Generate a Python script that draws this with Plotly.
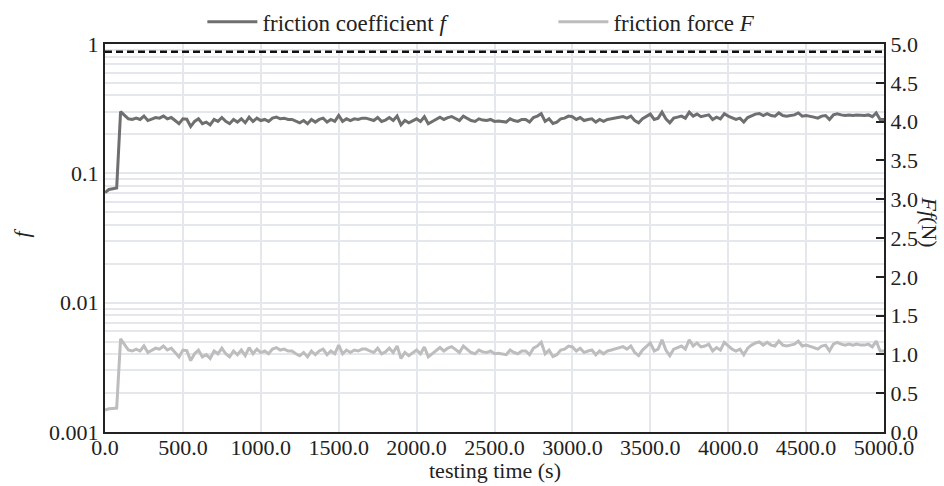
import plotly.graph_objects as go

# testing time (s), sampled every 25 s
time_s = list(range(0, 5001, 25))

# friction coefficient f (left, log axis)
friction_coef = [
    0.071, 0.075, 0.076, 0.077, 0.300, 0.280, 0.264, 0.261,
    0.267, 0.261, 0.277, 0.256, 0.264, 0.270, 0.267, 0.277,
    0.264, 0.270, 0.256, 0.242, 0.264, 0.262, 0.230, 0.252,
    0.264, 0.242, 0.249, 0.237, 0.261, 0.252, 0.270, 0.252,
    0.242, 0.261, 0.249, 0.264, 0.246, 0.272, 0.252, 0.267,
    0.256, 0.261, 0.252, 0.267, 0.272, 0.264, 0.267, 0.261,
    0.261, 0.252, 0.246, 0.256, 0.242, 0.261, 0.249, 0.261,
    0.267, 0.249, 0.261, 0.252, 0.280, 0.252, 0.264, 0.256,
    0.264, 0.261, 0.267, 0.267, 0.261, 0.256, 0.270, 0.252,
    0.258, 0.270, 0.256, 0.277, 0.237, 0.256, 0.246, 0.256,
    0.264, 0.252, 0.274, 0.242, 0.252, 0.264, 0.272, 0.261,
    0.270, 0.275, 0.264, 0.256, 0.277, 0.267, 0.256, 0.252,
    0.264, 0.258, 0.256, 0.261, 0.252, 0.254, 0.252, 0.249,
    0.264, 0.256, 0.252, 0.261, 0.261, 0.249, 0.270, 0.277,
    0.289, 0.252, 0.264, 0.243, 0.249, 0.264, 0.267, 0.277,
    0.274, 0.261, 0.270, 0.256, 0.261, 0.264, 0.249, 0.261,
    0.252, 0.261, 0.264, 0.267, 0.272, 0.275, 0.267, 0.277,
    0.256, 0.246, 0.264, 0.277, 0.287, 0.261, 0.267, 0.297,
    0.264, 0.246, 0.267, 0.272, 0.277, 0.267, 0.297, 0.277,
    0.287, 0.274, 0.277, 0.283, 0.261, 0.272, 0.264, 0.289,
    0.277, 0.267, 0.261, 0.267, 0.249, 0.270, 0.280, 0.287,
    0.290, 0.280, 0.289, 0.280, 0.277, 0.293, 0.280, 0.277,
    0.280, 0.283, 0.293, 0.277, 0.280, 0.277, 0.272, 0.267,
    0.277, 0.280, 0.261, 0.283, 0.289, 0.283, 0.280, 0.283,
    0.280, 0.283, 0.280, 0.280, 0.283, 0.274, 0.293, 0.261,
    0.261,
]

# friction force F in N (right, linear axis)
friction_force = [
    0.284, 0.300, 0.304, 0.308, 1.200, 1.120, 1.056, 1.044,
    1.068, 1.044, 1.108, 1.024, 1.056, 1.080, 1.068, 1.108,
    1.056, 1.080, 1.024, 0.968, 1.056, 1.048, 0.920, 1.008,
    1.056, 0.968, 0.996, 0.948, 1.044, 1.008, 1.080, 1.008,
    0.968, 1.044, 0.996, 1.056, 0.984, 1.088, 1.008, 1.068,
    1.024, 1.044, 1.008, 1.068, 1.088, 1.056, 1.068, 1.044,
    1.044, 1.008, 0.984, 1.024, 0.968, 1.044, 0.996, 1.044,
    1.068, 0.996, 1.044, 1.008, 1.120, 1.008, 1.056, 1.024,
    1.056, 1.044, 1.068, 1.068, 1.044, 1.024, 1.080, 1.008,
    1.032, 1.080, 1.024, 1.108, 0.948, 1.024, 0.984, 1.024,
    1.056, 1.008, 1.096, 0.968, 1.008, 1.056, 1.088, 1.044,
    1.080, 1.100, 1.056, 1.024, 1.108, 1.068, 1.024, 1.008,
    1.056, 1.032, 1.024, 1.044, 1.008, 1.016, 1.008, 0.996,
    1.056, 1.024, 1.008, 1.044, 1.044, 0.996, 1.080, 1.108,
    1.156, 1.008, 1.056, 0.972, 0.996, 1.056, 1.068, 1.108,
    1.096, 1.044, 1.080, 1.024, 1.044, 1.056, 0.996, 1.044,
    1.008, 1.044, 1.056, 1.068, 1.088, 1.100, 1.068, 1.108,
    1.024, 0.984, 1.056, 1.108, 1.148, 1.044, 1.068, 1.188,
    1.056, 0.984, 1.068, 1.088, 1.108, 1.068, 1.188, 1.108,
    1.148, 1.096, 1.108, 1.132, 1.044, 1.088, 1.056, 1.156,
    1.108, 1.068, 1.044, 1.068, 0.996, 1.080, 1.120, 1.148,
    1.160, 1.120, 1.156, 1.120, 1.108, 1.172, 1.120, 1.108,
    1.120, 1.132, 1.172, 1.108, 1.120, 1.108, 1.088, 1.068,
    1.108, 1.120, 1.044, 1.132, 1.156, 1.132, 1.120, 1.132,
    1.120, 1.132, 1.120, 1.120, 1.132, 1.096, 1.172, 1.044,
    1.044,
]

# dashed reference line (right axis)
ref_time = [0, 5000]
ref_level = [4.9, 4.9]

# tick labels
x_ticks = [0, 500, 1000, 1500, 2000, 2500, 3000, 3500, 4000, 4500, 5000]
log_major = [0.001, 0.01, 0.1, 1]
log_major_text = ["0.001", "0.01", "0.1", "1"]
right_ticks = [0.0, 0.5, 1.0, 1.5, 2.0, 2.5, 3.0, 3.5, 4.0, 4.5, 5.0]

# log grid positions (majors + minors)
log_grid_vals = []
log_grid_text = []
for dec in [0.001, 0.01, 0.1]:
    for m in range(1, 10):
        v = round(m * dec, 6)
        log_grid_vals.append(v)
        log_grid_text.append(log_major_text[log_major.index(dec)] if m == 1 else "")
log_grid_vals.append(1)
log_grid_text.append("1")

FONT = "Liberation Serif, Times New Roman, serif"
GRID = "#e4e8ec"
TXT = "#222222"

fig = go.Figure()
fig.add_trace(go.Scatter(
    x=time_s, y=friction_coef, mode="lines", name="friction coefficient <i>f</i>",
    line=dict(color="#6f6f6f", width=3), yaxis="y"))
fig.add_trace(go.Scatter(
    x=time_s, y=friction_force, mode="lines", name="friction force <i>F</i>",
    line=dict(color="#bdbdbd", width=3), yaxis="y2"))
fig.add_trace(go.Scatter(
    x=ref_time, y=ref_level, mode="lines", showlegend=False,
    line=dict(color="#111111", width=2.5, dash="7px,4px"), yaxis="y2"))

fig.update_layout(
    width=944, height=486,
    margin=dict(l=105, r=60, t=44, b=54, autoexpand=False),
    paper_bgcolor="white", plot_bgcolor="white",
    font=dict(family=FONT, size=22, color=TXT),
    showlegend=True,
    legend=dict(orientation="h", x=0.125, y=1.057, xanchor="left", yanchor="middle",
                font=dict(family=FONT, size=23, color=TXT),
                bgcolor="rgba(0,0,0,0)", entrywidth=286, entrywidthmode="pixels",
                itemwidth=50),
    xaxis=dict(range=[0, 5000], tickvals=x_ticks,
               ticktext=[f"{v:.1f}" for v in x_ticks],
               showgrid=True, gridcolor=GRID, gridwidth=2,
               showline=True, linecolor=TXT, linewidth=2, mirror=True,
               ticks="", zeroline=False, ticklabelstandoff=-5,
               tickfont=dict(family=FONT, size=22, color=TXT)),
    yaxis=dict(type="log", range=[-3, 0], tickvals=log_grid_vals, ticktext=log_grid_text,
               showgrid=True, gridcolor=GRID, gridwidth=2,
               showline=True, linecolor=TXT, linewidth=2, mirror=True,
               ticks="", zeroline=False,
               tickfont=dict(family=FONT, size=22, color=TXT)),
    yaxis2=dict(overlaying="y", side="right", range=[0, 5], tickvals=right_ticks,
                ticktext=[f"{v:.1f}" for v in right_ticks],
                showgrid=False, zeroline=False,
                showline=True, linecolor=TXT, linewidth=2,
                ticks="inside", ticklen=8, tickwidth=1.5, tickcolor=TXT,
                tickfont=dict(family=FONT, size=22, color=TXT)),
    annotations=[
        dict(text="testing time (s)", xref="paper", yref="paper", x=0.5, y=-0.099,
             showarrow=False, xanchor="center", yanchor="middle",
             font=dict(family=FONT, size=22, color=TXT)),
        dict(text="<i>f</i>", xref="paper", yref="paper", x=-0.107, y=0.513,
             showarrow=False, textangle=-90, xanchor="center", yanchor="middle",
             font=dict(family=FONT, size=22, color=TXT)),
        dict(text="<i>Ff</i>(N)", xref="paper", yref="paper", x=1.0585, y=0.541,
             showarrow=False, textangle=90, xanchor="center", yanchor="middle",
             font=dict(family=FONT, size=22, color=TXT)),
    ],
)

fig.write_html("out.html")
